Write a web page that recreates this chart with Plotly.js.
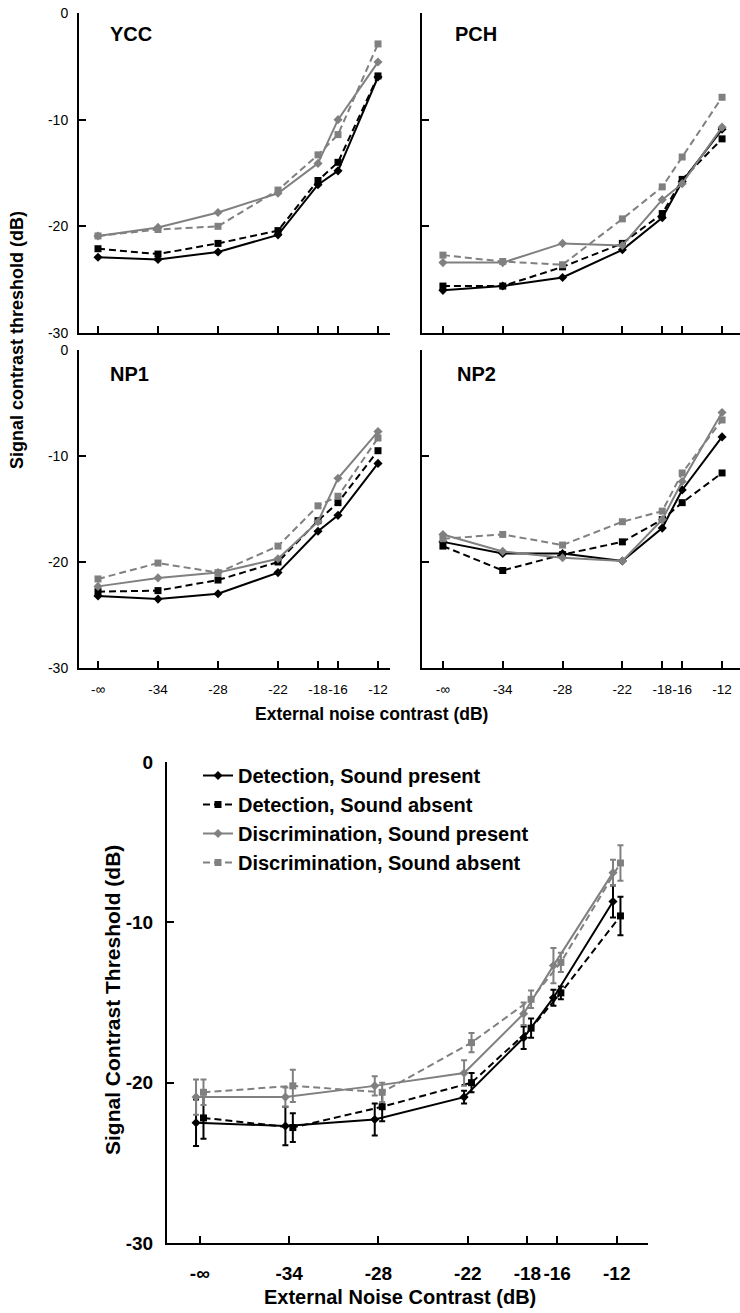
<!DOCTYPE html>
<html><head><meta charset="utf-8">
<script src="https://cdn.plot.ly/plotly-3.0.1.min.js"></script>
<style>html,body{margin:0;padding:0;background:#fff}#chart{width:740px;height:1313px}</style>
</head><body><div id="chart"></div><script>
// ---------- data ----------
// x positions in dB; -40 is where the "-∞" (no external noise) condition is drawn
const noiseLevels = [-40, -34, -28, -22, -18, -16, -12];
const noiseTickText = ['-\u221E', '-34', '-28', '-22', '-18', '-16', '-12'];
const bottomNoiseTickText = ['-\u221E', '-34', '-28', '-22', '-18', '-16', '-12'];
const thresholdTickVals = [0, -10, -20, -30];
const thresholdTickText = ['0', '-10', '-20', '-30'];

const seriesNames = ['Detection, Sound present', 'Detection, Sound absent',
                     'Discrimination, Sound present', 'Discrimination, Sound absent'];
const panelNames = ['YCC', 'PCH', 'NP1', 'NP2'];

// YCC
const yccDetPresent  = [-22.9, -23.1, -22.4, -20.8, -16.1, -14.8, -6.0];
const yccDetAbsent   = [-22.1, -22.6, -21.6, -20.4, -15.7, -14.0, -5.9];
const yccDiscPresent = [-20.9, -20.1, -18.7, -16.9, -14.1, -10.0, -4.6];
const yccDiscAbsent  = [-20.9, -20.3, -20.0, -16.6, -13.3, -11.4, -2.9];
// PCH
const pchDetPresent  = [-26.0, -25.6, -24.8, -22.2, -19.2, -15.8, -10.9];
const pchDetAbsent   = [-25.6, -25.6, -23.8, -21.6, -18.8, -15.6, -11.8];
const pchDiscPresent = [-23.4, -23.4, -21.6, -21.8, -17.5, -16.0, -10.7];
const pchDiscAbsent  = [-22.7, -23.3, -23.6, -19.3, -16.3, -13.5, -7.9];
// NP1
const np1DetPresent  = [-23.2, -23.5, -23.0, -21.0, -17.1, -15.6, -10.7];
const np1DetAbsent   = [-22.8, -22.7, -21.7, -20.0, -16.1, -14.4, -9.5];
const np1DiscPresent = [-22.3, -21.5, -21.0, -19.7, -16.2, -12.1, -7.7];
const np1DiscAbsent  = [-21.6, -20.1, -21.0, -18.5, -14.7, -13.8, -8.3];
// NP2
const np2DetPresent  = [-18.1, -19.2, -19.2, -19.9, -16.8, -13.2, -8.2];
const np2DetAbsent   = [-18.5, -20.8, -19.3, -18.1, -16.0, -14.4, -11.6];
const np2DiscPresent = [-17.4, -19.0, -19.6, -19.9, -16.0, -12.4, -5.9];
const np2DiscAbsent  = [-17.8, -17.4, -18.4, -16.2, -15.2, -11.6, -6.6];
// Average with error bars
const meanDetPresent  = [-22.5, -22.7, -22.3, -20.9, -17.2, -14.7, -8.7];
const meanDetAbsent   = [-22.2, -22.8, -21.5, -20.0, -16.6, -14.4, -9.6];
const meanDiscPresent = [-20.9, -20.9, -20.2, -19.4, -15.7, -12.7, -6.9];
const meanDiscAbsent  = [-20.6, -20.2, -20.6, -17.5, -14.8, -12.5, -6.3];
const errDetPresent   = [1.45, 1.2, 1.0, 0.4, 0.7, 0.5, 1.0];
const errDetAbsent    = [1.3, 0.9, 0.9, 0.6, 0.6, 0.4, 1.2];
const errDiscPresent  = [1.1, 0.6, 0.6, 0.8, 0.7, 1.1, 0.8];
const errDiscAbsent   = [0.8, 1.0, 0.6, 0.6, 0.55, 0.6, 1.1];

// ---------- styles ----------
const W = 740, H = 1313;
const BLACK = '#000000', GRAY = '#808080';
const colors = [BLACK, BLACK, GRAY, GRAY];
const dashes = ['solid', '7px,4px', 'solid', '7px,4px'];
const symbols = ['diamond', 'square', 'diamond', 'square'];
const FONT = 'Liberation Sans, Arial, Helvetica, sans-serif';
const DODGE = 0.25; // horizontal offset (dB) between diamond and square series in the average plot

const panelData = [
  [yccDetPresent, yccDetAbsent, yccDiscPresent, yccDiscAbsent],
  [pchDetPresent, pchDetAbsent, pchDiscPresent, pchDiscAbsent],
  [np1DetPresent, np1DetAbsent, np1DiscPresent, np1DiscAbsent],
  [np2DetPresent, np2DetAbsent, np2DiscPresent, np2DiscAbsent]
];
const meanData = [meanDetPresent, meanDetAbsent, meanDiscPresent, meanDiscAbsent];
const errData = [errDetPresent, errDetAbsent, errDiscPresent, errDiscAbsent];

const traces = [];
panelData.forEach((series, p) => {
  const ax = p === 0 ? '' : String(p + 1);
  series.forEach((vals, s) => {
    traces.push({
      type: 'scatter', mode: 'lines+markers',
      x: noiseLevels, y: vals, name: seriesNames[s],
      xaxis: 'x' + ax, yaxis: 'y' + ax, showlegend: false, cliponaxis: false,
      line: {color: colors[s], width: 2, dash: dashes[s]},
      marker: {symbol: symbols[s], size: 7, color: colors[s]},
      hoverinfo: 'skip'
    });
  });
});
meanData.forEach((vals, s) => {
  const off = symbols[s] === 'diamond' ? -DODGE : DODGE;
  traces.push({
    type: 'scatter', mode: 'lines+markers',
    x: noiseLevels.map(v => v + off), y: vals, name: seriesNames[s],
    xaxis: 'x5', yaxis: 'y5', showlegend: true, cliponaxis: false,
    line: {color: colors[s], width: 2, dash: dashes[s]},
    marker: {symbol: symbols[s], size: 7, color: colors[s]},
    error_y: {type: 'data', array: errData[s], visible: true, color: colors[s], thickness: 2, width: 3},
    hoverinfo: 'skip'
  });
});

function xd(a, b) { return [a / W, b / W]; }
function yd(top, bottom) { return [1 - bottom / H, 1 - top / H]; }

function topX(domain, range, labels) {
  return {
    domain: domain, range: range, showline: true, linecolor: BLACK, linewidth: 2,
    ticks: 'inside', ticklen: 7, tickwidth: 2, tickcolor: BLACK,
    tickmode: 'array', tickvals: noiseLevels, ticktext: noiseTickText, tickangle: 0,
    showticklabels: labels, tickfont: {family: FONT, size: 13.5, color: BLACK},
    ticklabelstandoff: 8, showgrid: false, zeroline: false, fixedrange: true
  };
}
function topY(domain, labels) {
  return {
    domain: domain, range: [-30, 0], showline: true, linecolor: BLACK, linewidth: 2,
    ticks: 'inside', ticklen: 7, tickwidth: 2, tickcolor: BLACK,
    tickmode: 'array', tickvals: thresholdTickVals, ticktext: thresholdTickText,
    showticklabels: labels, tickfont: {family: FONT, size: 14, color: BLACK},
    ticklabelstandoff: 6, showgrid: false, zeroline: false, fixedrange: true
  };
}

const layout = {
  width: W, height: H, margin: {l: 0, r: 0, t: 0, b: 0},
  paper_bgcolor: '#ffffff', plot_bgcolor: 'rgba(0,0,0,0)',
  font: {family: FONT, color: BLACK},
  xaxis:  Object.assign(topX(xd(79, 390), [-41.9, -10.8], false), {anchor: 'y'}),
  yaxis:  Object.assign(topY(yd(13, 333), true), {anchor: 'x'}),
  xaxis2: Object.assign(topX(xd(422, 740), [-42.1, -10.2], false), {anchor: 'y2'}),
  yaxis2: Object.assign(topY(yd(13, 333), false), {anchor: 'x2'}),
  xaxis3: Object.assign(topX(xd(79, 390), [-41.9, -10.8], true), {anchor: 'y3'}),
  yaxis3: Object.assign(topY(yd(350, 668), true), {anchor: 'x3'}),
  xaxis4: Object.assign(topX(xd(422, 740), [-42.1, -10.2], true), {anchor: 'y4'}),
  yaxis4: Object.assign(topY(yd(350, 668), false), {anchor: 'x4'}),
  xaxis5: {
    domain: xd(167, 648), range: [-42.2, -9.9], anchor: 'y5',
    showline: true, linecolor: BLACK, linewidth: 2,
    ticks: 'inside', ticklen: 7, tickwidth: 2, tickcolor: BLACK,
    tickmode: 'array', tickvals: noiseLevels, ticktext: bottomNoiseTickText, tickangle: 0,
    tickfont: {family: FONT, size: 19, color: BLACK, weight: 'bold'},
    ticklabelstandoff: 12, showgrid: false, zeroline: false, fixedrange: true
  },
  yaxis5: {
    domain: yd(762, 1243), range: [-30, 0], anchor: 'x5',
    showline: true, linecolor: BLACK, linewidth: 2,
    ticks: 'inside', ticklen: 7, tickwidth: 2, tickcolor: BLACK,
    tickmode: 'array', tickvals: thresholdTickVals, ticktext: thresholdTickText,
    tickfont: {family: FONT, size: 19, color: BLACK, weight: 'bold'},
    ticklabelstandoff: 8, showgrid: false, zeroline: false, fixedrange: true
  },
  showlegend: true,
  legend: {
    x: 198 / W, y: 1 - 756 / H, xanchor: 'left', yanchor: 'top',
    bgcolor: 'rgba(0,0,0,0)', borderwidth: 0, tracegroupgap: 0,
    font: {family: FONT, size: 20, color: BLACK, weight: 'bold'}
  },
  annotations: [
    {text: panelNames[0], x: 108 / W, y: 1 - 34 / H},
    {text: panelNames[1], x: 453 / W, y: 1 - 34 / H},
    {text: panelNames[2], x: 108 / W, y: 1 - 374 / H},
    {text: panelNames[3], x: 455 / W, y: 1 - 374 / H}
  ].map(a => Object.assign(a, {xref: 'paper', yref: 'paper', xanchor: 'left', yanchor: 'middle',
      showarrow: false, font: {family: FONT, size: 20, color: BLACK, weight: 'bold'}})).concat([
    {text: 'Signal contrast threshold (dB)', x: 17 / W, y: 1 - 340 / H, textangle: -90,
     xref: 'paper', yref: 'paper', xanchor: 'center', yanchor: 'middle', showarrow: false,
     font: {family: FONT, size: 18, color: BLACK, weight: 'bold'}},
    {text: 'External noise contrast (dB)', x: 371 / W, y: 1 - 714 / H,
     xref: 'paper', yref: 'paper', xanchor: 'center', yanchor: 'middle', showarrow: false,
     font: {family: FONT, size: 17.5, color: BLACK, weight: 'bold'}},
    {text: 'Signal Contrast Threshold (dB)', x: 112 / W, y: 1 - 1000 / H, textangle: -90,
     xref: 'paper', yref: 'paper', xanchor: 'center', yanchor: 'middle', showarrow: false,
     font: {family: FONT, size: 21, color: BLACK, weight: 'bold'}},
    {text: 'External Noise Contrast (dB)', x: 400 / W, y: 1 - 1297 / H,
     xref: 'paper', yref: 'paper', xanchor: 'center', yanchor: 'middle', showarrow: false,
     font: {family: FONT, size: 20, color: BLACK, weight: 'bold'}}
  ])
};

Plotly.newPlot('chart', traces, layout, {displayModeBar: false, staticPlot: true});
</script></body></html>
